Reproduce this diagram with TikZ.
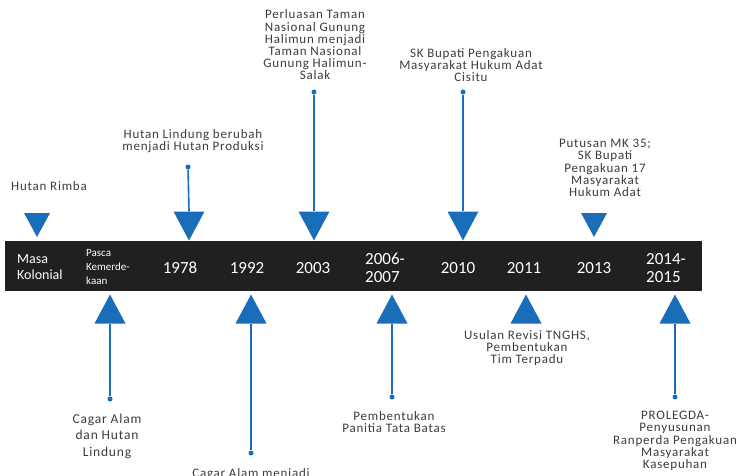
\documentclass[tikz,border=0pt]{standalone}
\usepackage{fontspec}
\setmainfont{Carlito}
\newfontfamily\notefont[LetterSpace=6]{Carlito}
\definecolor{tlblue}{HTML}{1A6EB9}
\definecolor{barblack}{HTML}{221F1F}
\definecolor{txtgray}{HTML}{3C3C3C}
\begin{document}
\begin{tikzpicture}[x=1pt,y=-1pt,
  bar/.style={fill=barblack, inner sep=0, minimum width=697pt, minimum height=50pt},
  yearlbl/.style={text=white, inner sep=0, font=\fontsize{17}{18}\selectfont, align=left},
  eralbl/.style={text=white, inner sep=0, font=\fontsize{14}{16}\selectfont, align=left},
  smalllbl/.style={text=white, inner sep=0, font=\fontsize{11}{13.8}\selectfont, align=left},
  note/.style={text=txtgray, inner sep=0, align=center, font=\notefont\fontsize{13}{12.2}\selectfont},
  notewide/.style={note, font=\notefont\fontsize{13.5}{16.5}\selectfont},
  tridown/.style={inner sep=0, minimum width=#1pt, minimum height=#1pt-2pt,
    path picture={\fill[tlblue] (path picture bounding box.north west) --
      (path picture bounding box.north east) -- (path picture bounding box.south) -- cycle;}},
  triup/.style={inner sep=0, minimum width=#1pt, minimum height=#1pt-2pt,
    path picture={\fill[tlblue] (path picture bounding box.south west) --
      (path picture bounding box.south east) -- (path picture bounding box.north) -- cycle;}},
  dot/.style={circle, fill=tlblue, inner sep=0, minimum size=5pt},
  conn/.style={draw=tlblue, line width=1.6pt}]
\useasboundingbox (0,0) rectangle (741,476);

% timeline bar
\node[bar] (bar) at (353.5,266) {};

% period labels on the bar
\node[eralbl, anchor=west] (kolonial) at (17,267) {Masa\\Kolonial};
\node[smalllbl, anchor=west] (pasca) at (86,267) {Pasca\\Kemerde-\\kaan};
\node[yearlbl] (y1978) at (180,268) {1978};
\node[yearlbl] (y1992) at (247,268) {1992};
\node[yearlbl] (y2003) at (313,268) {2003};
\node[yearlbl, anchor=west] (y2006) at (365,268) {2006-\\2007};
\node[yearlbl] (y2010) at (458,268) {2010};
\node[yearlbl] (y2011) at (524,268) {2011};
\node[yearlbl] (y2013) at (594,268) {2013};
\node[yearlbl, anchor=west] (y2014) at (646,268) {2014-\\2015};

% markers above the bar
\node[tridown=26] (mKol) at (37,225) {};
\node[tridown=31] (m1978) at (189,226) {};
\node[tridown=31] (m2003) at (314,226) {};
\node[tridown=31] (m2010) at (463,226) {};
\node[tridown=26] (m2013) at (594,225) {};

% markers below the bar
\node[triup=31] (mPasca) at (110,309) {};
\node[triup=31] (m1992) at (251,309) {};
\node[triup=31] (m2006) at (392,309) {};
\node[triup=31] (m2011) at (526,309) {};
\node[triup=31] (m2014) at (675,309) {};

% stems
\node[dot] (d1978) at (188,167) {};
\node[dot] (d2003) at (314,92) {};
\node[dot] (d2010) at (463,92) {};
\node[dot] (dPasca) at (110,399) {};
\node[dot] (d1992) at (251,453) {};
\node[dot] (d2006) at (392,397) {};
\node[dot] (d2014) at (675,397) {};
\draw[conn] (d1978) -- (m1978.north);
\draw[conn] (d2003) -- (m2003.north);
\draw[conn] (d2010) -- (m2010.north);
\draw[conn] (dPasca) -- (mPasca.south);
\draw[conn] (d1992) -- (m1992.south);
\draw[conn] (d2006) -- (m2006.south);
\draw[conn] (d2014) -- (m2014.south);

% event descriptions
\node[note] (eRimba) at (49,186) {Hutan Rimba};
\node[note] (e1978) at (193,141) {Hutan Lindung berubah\\menjadi Hutan Produksi};
\node[note] (e2003) at (315,45) {Perluasan Taman\\Nasional Gunung\\Halimun menjadi\\Taman Nasional\\Gunung Halimun-\\Salak};
\node[note] (e2010) at (471,65) {SK Bupati Pengakuan\\Masyarakat Hukum Adat\\Cisitu};
\node[note] (e2013) at (605,168) {Putusan MK 35;\\SK Bupati\\Pengakuan 17\\Masyarakat\\Hukum Adat};
\node[notewide] (ePasca) at (107,436) {Cagar Alam\\dan Hutan\\Lindung};
\node[note, anchor=north] (e1992) at (251,468) {Cagar Alam menjadi};
\node[note] (e2006) at (394,422) {Pembentukan\\Panitia Tata Batas};
\node[note] (e2011) at (527,348) {Usulan Revisi TNGHS,\\Pembentukan\\Tim Terpadu};
\node[note] (e2014) at (675,441) {PROLEGDA-\\Penyusunan\\Ranperda Pengakuan\\Masyarakat\\Kasepuhan};
\end{tikzpicture}
\end{document}
